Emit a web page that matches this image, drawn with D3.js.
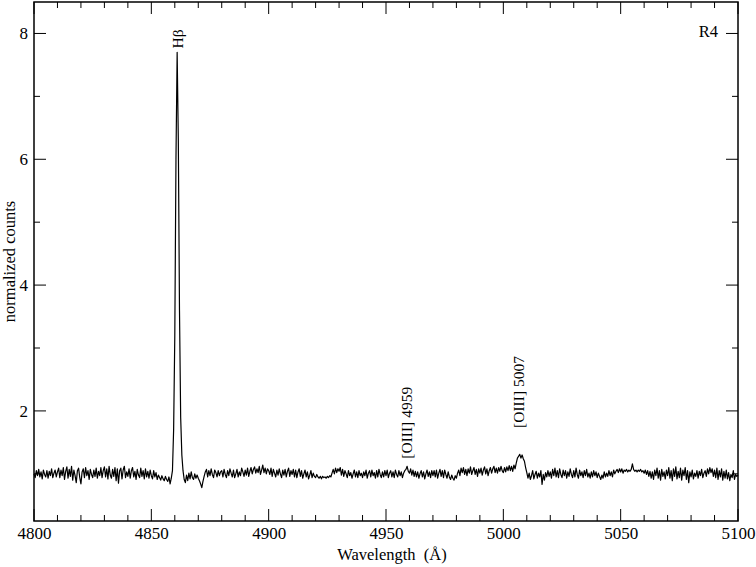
<!DOCTYPE html>
<html>
<head>
<meta charset="utf-8">
<script src="https://cdn.jsdelivr.net/npm/d3@7"></script>
<style>
  html, body { margin: 0; padding: 0; background: #fff; }
  svg { display: block; }
  text { font-family: "Liberation Serif", "Times New Roman", "DejaVu Serif", serif; fill: #000; }
</style>
</head>
<body>
<svg id="chart" width="756" height="567"></svg>
<script>
// ---- data ----
const waveStart = 4800;   // Å
const waveStep = 0.5;     // Å per sample
const flux = [
  1.00,0.94,1.05,0.97,1.07,0.95,1.03,0.92,1.06,0.99,0.95,1.05,0.93,1.04,0.97,1.08,0.94,1.01,1.06,0.95,
  1.03,1.09,0.94,1.06,0.97,1.10,0.91,1.04,1.11,0.93,1.07,0.96,1.12,0.90,1.06,0.97,0.86,1.05,1.09,0.94,
  0.84,1.03,1.08,0.94,1.10,0.97,1.05,0.91,1.07,0.99,0.94,1.06,0.96,1.09,0.93,1.04,0.97,1.10,0.94,1.05,
  1.11,0.95,1.08,0.92,1.12,0.98,0.93,1.07,0.96,1.10,0.89,1.08,0.85,1.05,1.09,0.92,1.06,1.12,0.94,1.03,
  0.96,1.08,0.93,1.05,1.10,0.95,1.04,0.91,1.07,0.98,0.94,1.09,0.96,1.05,0.92,1.08,0.95,1.04,0.93,1.06,
  0.97,0.92,1.05,0.95,1.02,0.91,0.98,0.94,0.90,0.97,0.92,0.89,0.96,0.91,0.88,0.95,0.84,0.93,1.05,1.70,
  3.20,6.00,7.70,6.30,3.60,1.90,1.30,1.05,0.91,0.86,0.98,0.89,1.01,0.92,1.03,0.94,0.91,1.00,0.93,0.98,
  0.93,0.89,0.84,0.78,0.88,0.96,1.03,1.07,0.95,1.05,0.97,1.08,0.99,0.94,1.06,1.02,0.95,1.05,0.97,1.03,
  1.05,0.95,1.07,0.99,0.94,1.05,0.97,1.08,1.01,0.95,1.06,0.94,1.00,1.07,0.95,1.03,0.97,1.09,1.03,0.96,
  1.06,0.98,1.09,0.96,1.04,1.10,1.00,1.07,1.11,1.01,1.08,1.02,1.12,0.99,1.06,1.14,1.02,1.09,1.00,1.08,
  1.05,0.99,1.09,0.96,1.07,1.01,0.95,1.06,0.98,1.08,1.00,0.94,1.06,0.98,1.07,0.95,1.04,1.09,0.96,1.05,
  0.99,1.07,0.95,1.06,0.94,1.03,1.08,0.96,1.05,0.93,1.00,1.06,0.95,1.03,0.92,0.98,1.05,0.94,1.01,0.96,
  0.94,0.99,0.95,0.93,0.96,0.92,0.96,0.94,0.95,0.93,0.96,0.94,0.97,0.95,1.01,1.07,1.00,1.09,1.02,1.08,
  1.04,1.10,0.98,1.07,0.96,1.05,1.00,0.94,1.05,0.97,1.02,0.93,1.00,1.06,0.95,1.03,0.94,1.05,0.97,1.01,
  0.94,1.03,0.97,1.06,0.93,1.01,1.05,0.95,1.06,0.97,1.02,0.93,1.05,0.95,1.07,0.99,0.94,1.03,0.95,1.05,
  0.97,1.06,0.94,1.01,1.05,0.95,1.03,0.94,1.06,0.99,0.95,1.05,0.97,1.03,0.94,1.01,1.05,1.07,1.12,1.04,
  1.01,1.08,0.98,1.06,0.96,1.04,0.95,1.03,0.93,1.00,1.05,0.95,1.03,0.92,1.00,1.06,0.96,1.03,0.94,1.05,
  0.97,1.05,0.95,1.06,0.93,1.01,1.07,0.96,1.05,0.94,1.06,0.99,0.93,1.03,0.95,0.91,0.98,0.93,0.90,0.97,
  0.93,1.01,1.06,0.97,1.09,1.02,1.10,0.99,1.07,0.97,1.08,1.01,1.11,0.99,1.05,1.10,0.99,1.07,0.96,1.08,
  1.01,1.09,0.98,1.06,1.11,1.00,1.08,0.97,1.05,1.10,1.01,1.08,1.12,1.02,1.09,1.01,1.10,1.04,1.12,1.05,
  1.02,1.10,1.03,1.11,1.05,1.13,1.05,1.12,1.04,1.14,1.08,1.17,1.25,1.28,1.31,1.25,1.30,1.24,1.20,1.10,
  1.02,0.93,1.01,0.91,0.97,1.05,0.92,0.99,1.04,0.93,1.01,0.95,1.05,0.83,0.99,0.90,1.02,0.95,1.05,0.96,
  1.03,0.93,1.07,0.97,1.09,0.95,1.05,0.94,1.08,0.99,0.94,1.06,0.97,1.05,0.93,1.03,0.96,1.08,0.99,0.94,
  1.05,0.95,1.09,0.99,0.93,1.06,0.97,1.03,0.94,1.05,0.97,1.07,0.95,1.01,0.93,1.03,0.95,1.05,0.97,1.03,
  0.94,1.01,0.96,0.91,0.98,0.93,1.03,0.95,1.01,0.96,1.05,0.97,1.03,0.95,1.06,1.00,1.04,1.07,1.02,1.08,
  1.03,1.08,1.01,1.06,1.04,1.07,1.03,1.06,1.04,1.07,1.16,1.07,1.04,1.06,1.03,1.06,1.04,1.07,1.03,1.05,
  1.01,1.06,0.99,1.05,0.96,1.04,0.93,1.03,0.91,1.06,0.97,1.09,0.93,1.05,0.90,1.07,0.96,1.03,0.92,1.06,
  0.97,1.10,0.93,1.05,0.89,1.08,0.96,1.11,0.92,1.04,0.94,1.09,0.90,1.06,0.97,1.10,0.91,1.05,0.86,1.03,
  0.95,1.06,0.92,1.01,0.96,1.05,0.93,1.04,0.97,1.07,0.94,1.01,1.05,0.96,1.08,1.00,1.10,1.02,1.08,0.96,
  1.06,0.94,1.09,0.91,1.05,0.95,1.08,0.90,1.04,0.93,1.06,0.92,1.02,0.89,0.99,0.94,1.05,0.91,0.99,0.96,
  0.98
];
const xDomain = [4800, 5100];
const yDomain = [0.25, 8.5];
const xMajorTicks = [4800, 4850, 4900, 4950, 5000, 5050, 5100];
const yMajorTicks = [2, 4, 6, 8];
const lineLabels = [
  { text: "H\u03B2", wave: 4861.2, value: 7.76 },
  { text: "[OIII] 4959", wave: 4959.1, value: 1.24 },
  { text: "[OIII] 5007", wave: 5006.6, value: 1.73 }
];
const panelLabel = "R4";
const xTitle = "Wavelength  (\u00C5)";
const yTitle = "normalized counts";

// ---- layout ----
const margin = { left: 34, right: 18, top: 2, bottom: 46 };
const W = 756, H = 567;
const svg = d3.select("#chart");
const x = d3.scaleLinear().domain(xDomain).range([margin.left, W - margin.right]);
const y = d3.scaleLinear().domain(yDomain).range([H - margin.bottom, margin.top]);

const data = flux.map((v, i) => ({ w: waveStart + i * waveStep, f: v }));

// spectrum
svg.append("path")
  .datum(data)
  .attr("fill", "none")
  .attr("stroke", "#000")
  .attr("stroke-width", 1.2)
  .attr("stroke-linejoin", "round")
  .attr("d", d3.line().x(d => x(d.w)).y(d => y(d.f)));

// ticks (inward, all four sides)
const xMinor = d3.range(4800, 5101, 10).filter(v => !xMajorTicks.includes(v));
const yMinor = d3.range(1, 9, 1).filter(v => !yMajorTicks.includes(v));
const bottomY = y.range()[0], topY = y.range()[1];
const leftX = x.range()[0], rightX = x.range()[1];
const majLen = 12, minLen = 6;

const bottomAxis = d3.axisBottom(x).tickValues(xMajorTicks).tickSize(0).tickPadding(6).tickFormat(d3.format("d"));
const gx = svg.append("g").attr("transform", `translate(0,${bottomY})`).call(bottomAxis);
gx.attr("font-family", null);
gx.select(".domain").remove();
gx.selectAll("text").attr("font-size", 17);

const leftAxis = d3.axisLeft(y).tickValues(yMajorTicks).tickSize(0).tickPadding(6).tickFormat(d3.format("d"));
const gy = svg.append("g").attr("transform", `translate(${leftX},0)`).call(leftAxis);
gy.attr("font-family", null);
gy.select(".domain").remove();
gy.selectAll("text").attr("font-size", 17);

const tickG = svg.append("g").attr("stroke", "#000").attr("stroke-width", 1);
function xTicks(vals, len) {
  vals.forEach(v => {
    tickG.append("line").attr("x1", x(v)).attr("x2", x(v)).attr("y1", bottomY).attr("y2", bottomY - len);
    tickG.append("line").attr("x1", x(v)).attr("x2", x(v)).attr("y1", topY).attr("y2", topY + len);
  });
}
function yTicks(vals, len) {
  vals.forEach(v => {
    tickG.append("line").attr("y1", y(v)).attr("y2", y(v)).attr("x1", leftX).attr("x2", leftX + len);
    tickG.append("line").attr("y1", y(v)).attr("y2", y(v)).attr("x1", rightX).attr("x2", rightX - len);
  });
}
xTicks(xMajorTicks, majLen); xTicks(xMinor, minLen);
yTicks(yMajorTicks, majLen); yTicks(yMinor, minLen);

// frame
svg.append("rect")
  .attr("x", leftX).attr("y", topY)
  .attr("width", rightX - leftX).attr("height", bottomY - topY)
  .attr("fill", "none").attr("stroke", "#000").attr("stroke-width", 1.5);

// axis titles
svg.append("text")
  .attr("x", (leftX + rightX) / 2 + 6).attr("y", 560)
  .attr("text-anchor", "middle").attr("font-size", 16.5)
  .style("white-space", "pre")
  .text(xTitle);
svg.append("text")
  .attr("transform", `translate(15,${(topY + bottomY) / 2}) rotate(-90)`)
  .attr("text-anchor", "middle").attr("font-size", 16.5)
  .text(yTitle);

// line labels (rotated)
lineLabels.forEach(l => {
  svg.append("text")
    .attr("transform", `translate(${x(l.wave) + 5},${y(l.value)}) rotate(-90)`)
    .attr("text-anchor", "start").attr("font-size", 15.5)
    .text(l.text);
});

// panel label
svg.append("text")
  .attr("x", 718).attr("y", 37)
  .attr("text-anchor", "end").attr("font-size", 16.5)
  .text(panelLabel);

if (flux.length !== 601) console.error("flux length " + flux.length);
</script>
</body>
</html>
